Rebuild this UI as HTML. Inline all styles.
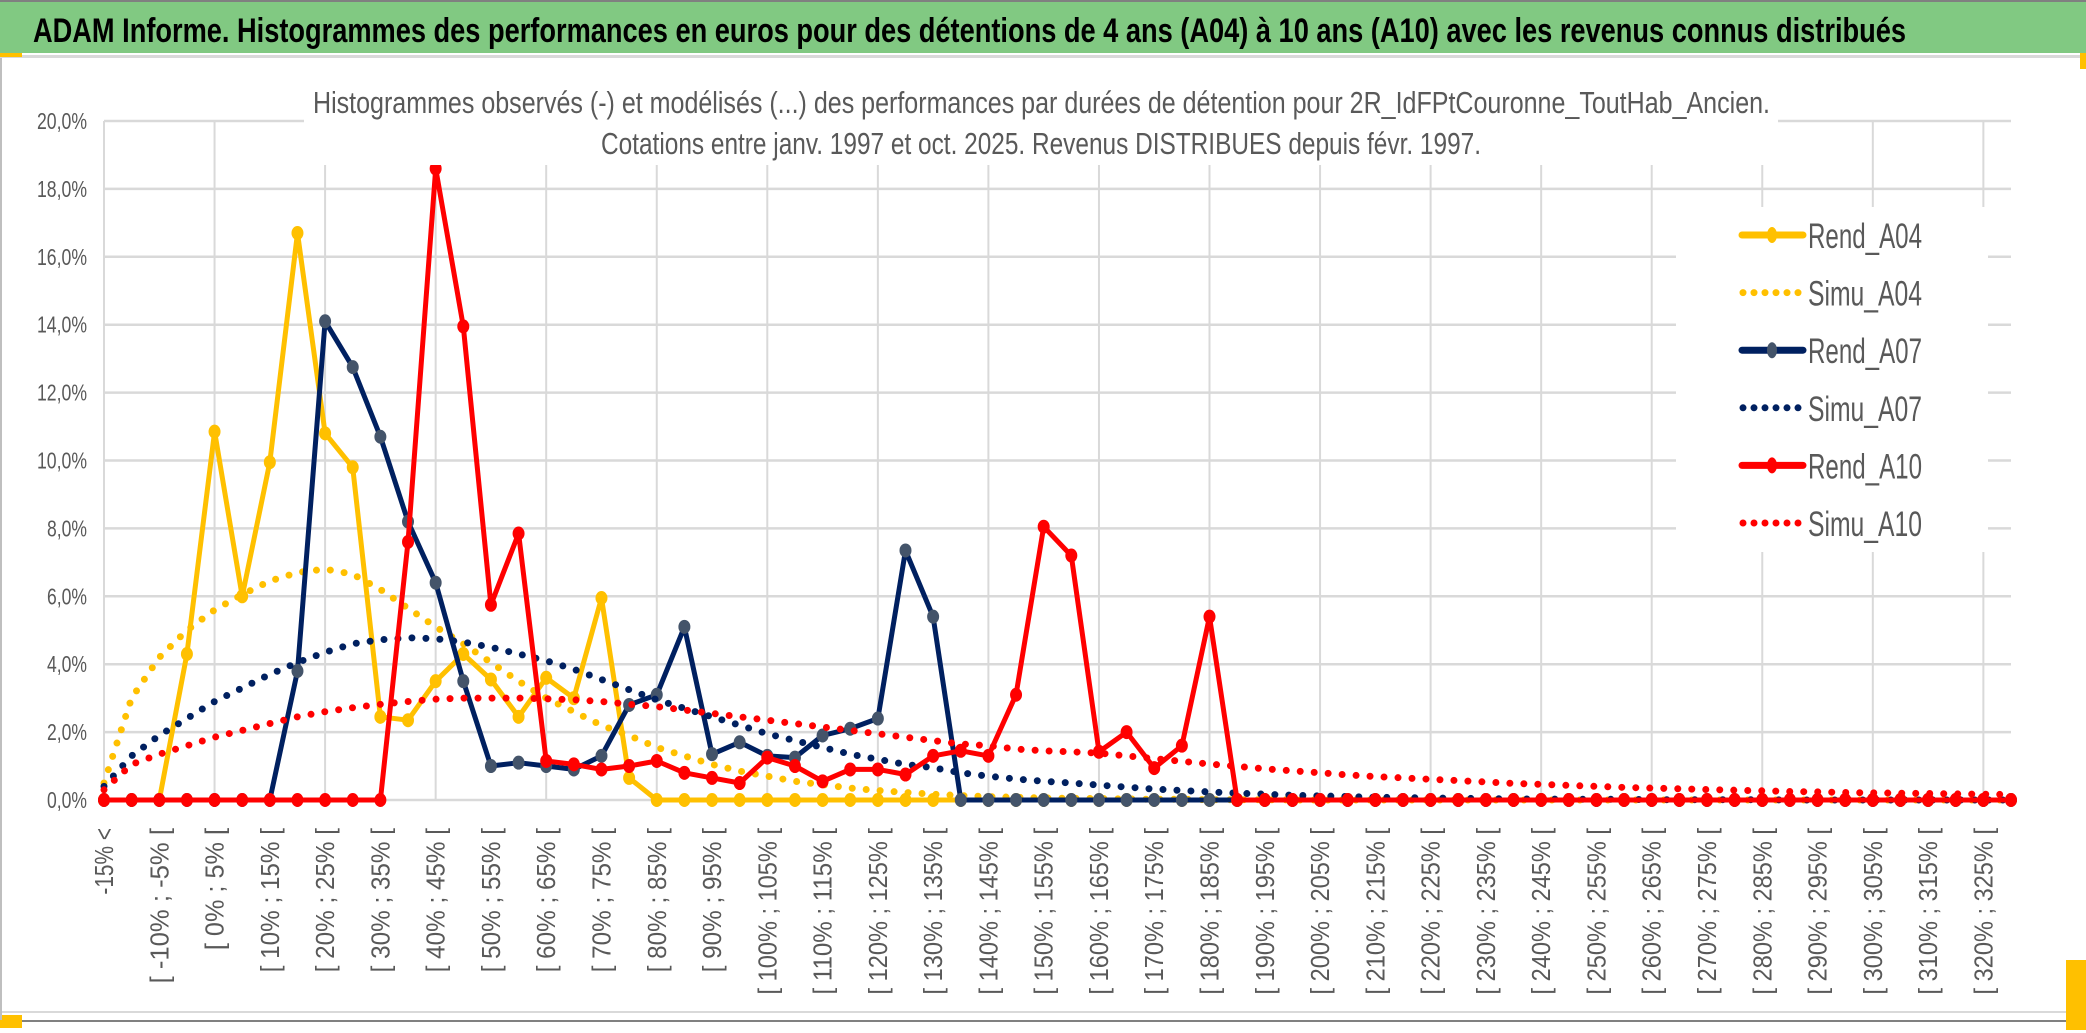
<!DOCTYPE html>
<html><head><meta charset="utf-8"><style>
html,body{margin:0;padding:0;background:#fff;}
svg{display:block;}
</style></head><body>
<svg id="chart" width="2086" height="1033" xmlns="http://www.w3.org/2000/svg" font-family="'Liberation Sans', sans-serif">
<rect x="0" y="0" width="2086" height="1033" fill="#fff"/>
<rect x="0" y="0" width="2086" height="2" fill="#808080"/>
<rect x="0" y="2" width="2086" height="51" fill="#81c982"/>
<rect x="0" y="55" width="2086" height="3" fill="#d9d9d9"/>
<rect x="0" y="53" width="22" height="4" fill="#ffc000"/>
<rect x="2080" y="53" width="6" height="16" fill="#ffc000"/>
<text x="33" y="42" font-size="34" font-weight="bold" fill="#000" textLength="1873" lengthAdjust="spacingAndGlyphs">ADAM Informe. Histogrammes des performances en euros pour des détentions de 4 ans (A04) à 10 ans (A10) avec les revenus connus distribués</text>
<rect x="0" y="1011" width="2086" height="2" fill="#d9d9d9"/>
<rect x="0" y="1020" width="2086" height="2" fill="#808080"/>
<rect x="0" y="1015" width="22" height="13" fill="#ffc000"/>
<rect x="2066" y="960" width="20" height="70" fill="#ffc000"/>
<rect x="0" y="58" width="2" height="962" fill="#bfbfbf"/>
<g id="grid"></g>
<g id="series"></g>
<g id="axes"></g>
<rect x="304" y="62" width="1474" height="103" fill="#fff"/>
<text x="313" y="113" font-size="31" fill="#595959" textLength="1457" lengthAdjust="spacingAndGlyphs">Histogrammes observés (-) et modélisés (...) des performances par durées de détention pour 2R_IdFPtCouronne_ToutHab_Ancien.</text>
<text x="601" y="154" font-size="31" fill="#595959" textLength="880" lengthAdjust="spacingAndGlyphs">Cotations entre janv. 1997 et oct. 2025. Revenus DISTRIBUES depuis févr. 1997.</text>
<g id="legend"></g>
</svg>
<script>
const categories = ["-15% <","[ -15% ; -10% [","[ -10% ; -5% [","[ -5% ; 0% [","[ 0% ; 5% [","[ 5% ; 10% [","[ 10% ; 15% [","[ 15% ; 20% [","[ 20% ; 25% [","[ 25% ; 30% [","[ 30% ; 35% [","[ 35% ; 40% [","[ 40% ; 45% [","[ 45% ; 50% [","[ 50% ; 55% [","[ 55% ; 60% [","[ 60% ; 65% [","[ 65% ; 70% [","[ 70% ; 75% [","[ 75% ; 80% [","[ 80% ; 85% [","[ 85% ; 90% [","[ 90% ; 95% [","[ 95% ; 100% [","[ 100% ; 105% [","[ 105% ; 110% [","[ 110% ; 115% [","[ 115% ; 120% [","[ 120% ; 125% [","[ 125% ; 130% [","[ 130% ; 135% [","[ 135% ; 140% [","[ 140% ; 145% [","[ 145% ; 150% [","[ 150% ; 155% [","[ 155% ; 160% [","[ 160% ; 165% [","[ 165% ; 170% [","[ 170% ; 175% [","[ 175% ; 180% [","[ 180% ; 185% [","[ 185% ; 190% [","[ 190% ; 195% [","[ 195% ; 200% [","[ 200% ; 205% [","[ 205% ; 210% [","[ 210% ; 215% [","[ 215% ; 220% [","[ 220% ; 225% [","[ 225% ; 230% [","[ 230% ; 235% [","[ 235% ; 240% [","[ 240% ; 245% [","[ 245% ; 250% [","[ 250% ; 255% [","[ 255% ; 260% [","[ 260% ; 265% [","[ 265% ; 270% [","[ 270% ; 275% [","[ 275% ; 280% [","[ 280% ; 285% [","[ 285% ; 290% [","[ 290% ; 295% [","[ 295% ; 300% [","[ 300% ; 305% [","[ 305% ; 310% [","[ 310% ; 315% [","[ 315% ; 320% [","[ 320% ; 325% [","[ 325% ; 330% ["];
const yTicks = [0,2,4,6,8,10,12,14,16,18,20];
const yTickLabels = ["0,0%","2,0%","4,0%","6,0%","8,0%","10,0%","12,0%","14,0%","16,0%","18,0%","20,0%"];
const rendA04 = [0,0,0,4.3,10.85,6.0,9.95,16.7,10.8,9.8,2.45,2.35,3.5,4.3,3.55,2.45,3.6,3.0,5.95,0.65,0,0,0,0,0,0,0,0,0,0,0,0,0,0,0,0,0,0,0,0,0,0,0,0,0,0,0,0,0,0,0,0,0,0,0,0,0,0,0,0,0,0,0,0,0,0,0,0,0,0];
const simuA04 = [0.5,3.0,4.2,5.0,5.6,6.05,6.45,6.7,6.8,6.65,6.2,5.65,5.1,4.6,4.05,3.5,3.0,2.6,2.2,1.9,1.55,1.3,1.05,0.85,0.7,0.55,0.45,0.35,0.28,0.22,0.17,0.13,0.1,0.08,0.06,0.05,0.04,0.03,0.02,0.02,0.01,0.01,0.01,0,0,0,0,0,0,0,0,0,0,0,0,0,0,0,0,0,0,0,0,0,0,0,0,0,0,0];
const rendA07 = [0,0,0,0,0,0,0,3.8,14.1,12.75,10.7,8.2,6.4,3.5,1.0,1.1,1.0,0.9,1.3,2.8,3.1,5.1,1.35,1.7,1.3,1.25,1.9,2.1,2.4,7.35,5.4,0,0,0,0,0,0,0,0,0,0,0,0,0,0,0,0,0,0,0,0,0,0,0,0,0,0,0,0,0,0,0,0,0,0,0,0,0,0,0];
const simuA07 = [0.4,1.3,1.9,2.4,2.9,3.3,3.7,4.05,4.35,4.6,4.72,4.78,4.75,4.65,4.5,4.3,4.1,3.85,3.55,3.25,2.95,2.7,2.45,2.2,1.95,1.75,1.55,1.35,1.2,1.05,0.95,0.8,0.7,0.62,0.55,0.5,0.44,0.38,0.32,0.28,0.24,0.2,0.17,0.14,0.12,0.1,0.08,0.07,0.06,0.05,0.04,0.03,0.03,0.02,0.02,0.02,0.01,0.01,0.01,0.01,0.01,0,0,0,0,0,0,0,0,0];
const rendA10 = [0,0,0,0,0,0,0,0,0,0,0,7.6,18.6,13.95,5.75,7.85,1.15,1.05,0.9,1.0,1.15,0.8,0.65,0.5,1.25,1.0,0.55,0.9,0.9,0.75,1.3,1.45,1.3,3.1,8.05,7.2,1.42,2.0,0.94,1.6,5.4,0,0,0,0,0,0,0,0,0,0,0,0,0,0,0,0,0,0,0,0,0,0,0,0,0,0,0,0,0];
const simuA10 = [0.3,1.05,1.35,1.6,1.85,2.05,2.25,2.45,2.6,2.72,2.82,2.9,2.97,3.0,3.0,3.0,2.98,2.95,2.9,2.82,2.75,2.65,2.55,2.45,2.35,2.25,2.15,2.05,1.95,1.85,1.75,1.65,1.6,1.5,1.45,1.42,1.38,1.3,1.22,1.14,1.06,0.99,0.92,0.86,0.8,0.74,0.69,0.65,0.61,0.57,0.53,0.49,0.46,0.43,0.4,0.37,0.35,0.33,0.31,0.29,0.27,0.25,0.24,0.22,0.21,0.2,0.19,0.18,0.17,0.16];
const seriesNames = ["Rend_A04","Simu_A04","Rend_A07","Simu_A07","Rend_A10","Simu_A10"];

const NS = "http://www.w3.org/2000/svg";
const X0 = 104, X1 = 2011, Y0 = 800, Y20 = 121;
function xPos(i){ return X0 + i*(X1-X0)/(categories.length-1); }
function yPos(v){ return Y0 - v*(Y0-Y20)/20; }
function mk(tag, attrs, parent){ const e=document.createElementNS(NS,tag); for(const k in attrs) e.setAttribute(k,attrs[k]); parent.appendChild(e); return e; }

const grid = document.getElementById('grid');
yTicks.forEach(function(t){
  const l = mk('line',{x1:X0,x2:X1,y1:yPos(t),y2:yPos(t),stroke:'#d9d9d9','stroke-width':2.5},grid);
  
  
});
for(let i=0;i<categories.length;i+=4){
  const l = mk('line',{x1:xPos(i),x2:xPos(i),y1:Y20,y2:Y0,stroke:'#d9d9d9','stroke-width':2},grid);
  
  
}

const axes = document.getElementById('axes');
yTicks.forEach(function(t,k){
  const lab = yTickLabels[k];
  const tx = mk('text',{x:87,y:yPos(t)+8,'font-size':23,fill:'#595959','text-anchor':'end',textLength:lab.length*10,lengthAdjust:'spacingAndGlyphs'},axes);
  tx.textContent = lab;
  
  
});
for(let i=0;i<categories.length;i+=2){
  const lab = categories[i];
  const cx = xPos(i)+9, cy = 828;
  const tx = mk('text',{x:cx,y:cy,'font-size':26,fill:'#595959','text-anchor':'end',transform:'rotate(-90 '+cx+' '+cy+')',textLength:lab.length*11.1,lengthAdjust:'spacingAndGlyphs'},axes);
  tx.textContent = lab;
  
  
}

const seriesG = document.getElementById('series');
function pathD(vals){ return vals.map(function(v,i){ return (i?'L':'M')+xPos(i).toFixed(1)+' '+yPos(v).toFixed(1); }).join(' '); }
function drawSolid(vals,color,mcolor,name){
  const g = mk('g',{},seriesG);
  
  
  mk('path',{d:pathD(vals),fill:'none',stroke:color,'stroke-width':5,'stroke-linejoin':'round'},g);
  vals.forEach(function(v,i){
    const c = mk('ellipse',{cx:xPos(i),cy:yPos(v),rx:5.5,ry:6.5,fill:mcolor,stroke:mcolor,'stroke-width':1},g);
    
    
  });
}
function drawDotted(vals,color,name){
  const p = mk('path',{d:pathD(vals),fill:'none',stroke:color,'stroke-width':7,'stroke-linecap':'round','stroke-dasharray':'0 14'},seriesG);
  
  
}
drawSolid(rendA04,'#ffc000','#ffc000','series-rend-a04');
drawDotted(simuA04,'#ffc000','series-simu-a04');
drawSolid(rendA07,'#002060','#44546a','series-rend-a07');
drawDotted(simuA07,'#002060','series-simu-a07');
drawSolid(rendA10,'#ff0000','#ff0000','series-rend-a10');
drawDotted(simuA10,'#ff0000','series-simu-a10');

const leg = document.getElementById('legend');
mk('rect',{x:1676,y:207,width:312,height:345,fill:'#fff'},leg);
const legColors = ['#ffc000','#ffc000','#002060','#002060','#ff0000','#ff0000'];
const legMarker = ['#ffc000',null,'#44546a',null,'#ff0000',null];
seriesNames.forEach(function(n,k){
  const y = 235 + k*57.6;
  const g = mk('g',{},leg);
  
  
  if(legMarker[k]){
    mk('line',{x1:1742,x2:1803,y1:y,y2:y,stroke:legColors[k],'stroke-width':7,'stroke-linecap':'round'},g);
    mk('ellipse',{cx:1772,cy:y,rx:5,ry:8,fill:legMarker[k]},g);
  } else {
    mk('line',{x1:1743,x2:1800,y1:y,y2:y,stroke:legColors[k],'stroke-width':7,'stroke-linecap':'round','stroke-dasharray':'0 11'},g);
  }
  const t = mk('text',{x:1808,y:y+13,'font-size':35,fill:'#595959',textLength:114,lengthAdjust:'spacingAndGlyphs'},g);
  t.textContent = n;
});
</script>
</body></html>
